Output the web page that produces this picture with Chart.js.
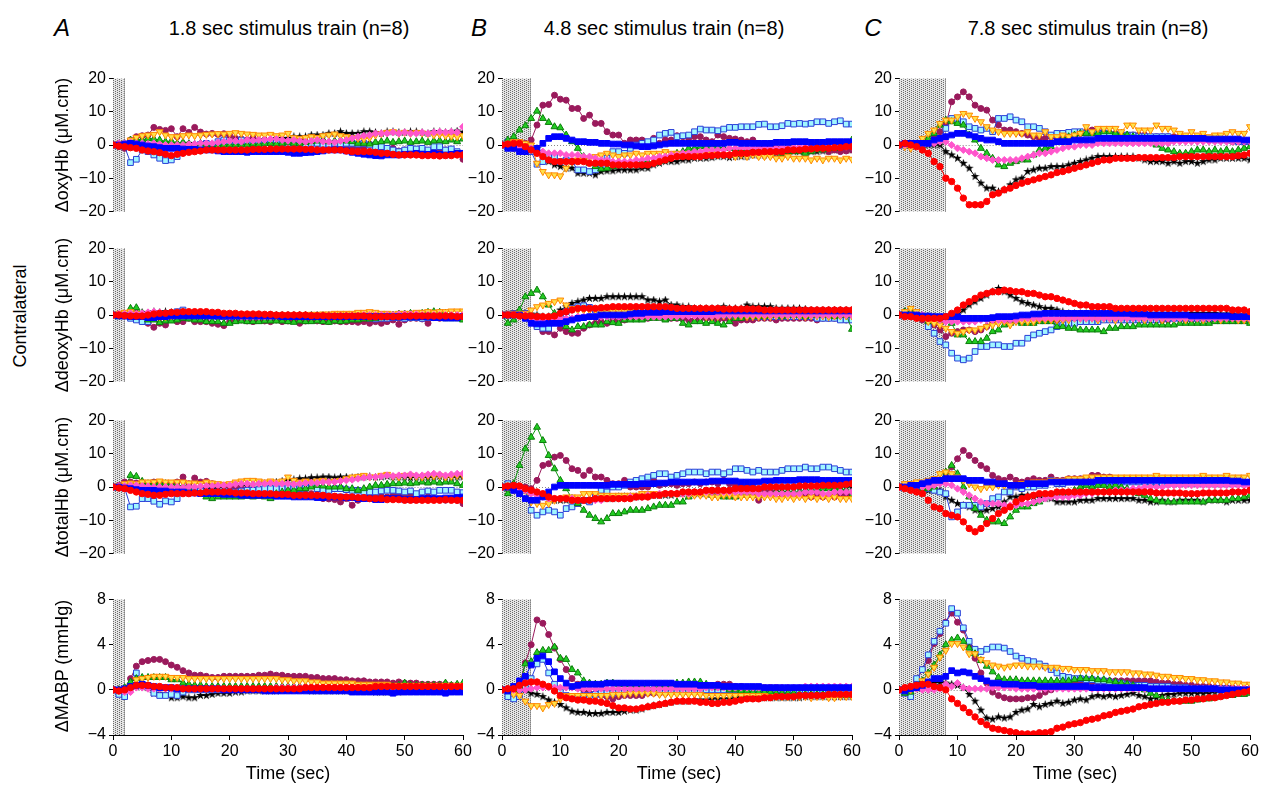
<!DOCTYPE html>
<html>
<head>
<meta charset="utf-8">
<script src="https://cdn.jsdelivr.net/npm/chart.js@4.4.1/dist/chart.umd.min.js"></script>
<style>
body { margin: 0; background: #fff; font-family: "Liberation Sans", Arial, sans-serif; }
#fig { position: relative; width: 1264px; height: 785px; overflow: hidden; }
#fig canvas { position: absolute; }
.lbl { position: absolute; white-space: nowrap; color: #000; font-size: 18px; transform: translate(-50%, -50%); }
.rot { transform: translate(-50%, -50%) rotate(-90deg); }
.head { font-size: 20px; }
.letter { font-size: 24px; font-style: italic; }
</style>
</head>
<body>
<div id="fig"></div>
<script>
// time base: one sample per second, 0..60 s
const seconds = Array.from({ length: 61 }, (_, i) => i);
const stimDur = [1.8, 4.8, 7.8];
const colTitles = ['1.8 sec stimulus train (n=8)', '4.8 sec stimulus train (n=8)', '7.8 sec stimulus train (n=8)'];
const colLetters = ['A', 'B', 'C'];
const rowTitles = ['\u0394oxyHb (\u03bcM.cm)', '\u0394deoxyHb (\u03bcM.cm)', '\u0394totalHb (\u03bcM.cm)', '\u0394MABP (mmHg)'];
const yTicks = [[-20, 20, 10], [-20, 20, 10], [-20, 20, 10], [-4, 8, 4]];

// ---- column A (1.8 s) ----
const A1_blk = [0,0,0.5,1,0.5,0.5,0,0,-0.5,0, 0,0,0.5,0.5,0,0,0,0,0.5,1, 1,1,1.5,1.5,1.5,1.5,1.5,1.5,2,2, 2,2.5,2.5,2.5,3,3,3,3.5,3.5,4, 3.5,3.5,3.5,4,4,3.8,3.5,4,4,3.8, 3.8,4,4,3.8,3.5,4,4,3.8,4,4.2, 3.8];
const A1_plum = [0,-0.5,-1,1.5,2.5,2.8,3,5.3,4.7,4.4, 4.9,2.5,4.9,3.8,5.3,3.9,3.3,3.5,3.2,3.4, 2.8,2,1.8,1.5,2.2,1.3,1.5,1,1.5,1.2, 0.5,1,1.5,0.8,0.5,0.3,1,0.2,-0.2,-0.5, -0.8,-1,-0.5,-0.8,0.2,-1,-1.2,-1.5,-1,-1.8, -1.5,-1.2,-2,-1.5,-2,-1.8,-2.2,-1.5,-2,-2.5, -4.3];
const A1_grn = [0,-0.3,-0.5,1.5,1.8,1.5,2,1.8,1.5,1, 1.2,0.5,0.8,0.3,0.2,0.5,0,-0.5,-0.3,0, 0,0,0.2,0,0.3,0.2,0.5,0.5,0.3,0.5, 0.8,0.5,0.5,0.8,1,1.2,1.5,1,1.2,1.5, 1.2,1,0.5,0.5,0.3,0.8,1,1.2,0.8,1, 1.2,0.8,1,1.2,0.8,1.2,1.3,1,1.5,1, 1.8];
const A1_org = [0,0.5,0.5,1.5,2.3,2.8,3,3.2,4,3, 2.5,2.5,2.8,3,2.8,3,3.2,3.3,3.4,3.3, 3.5,3.7,3.5,3.3,3.2,3,3,3.2,2.8,3, 3.5,2.2,2,2.2,2.5,2.3,2.8,3,3.3,2.8, 2.5,2.2,2,1.8,2.2,3,3.4,3.8,4,3.5, 3.8,3.5,3.8,3.6,3.4,3,3.2,2.8,2.6,2.5, 2.8];
const A1_pnk = [0,0.5,0.5,0.8,0.5,0.5,0.3,0.5,0.2,0, 0,0,0,0.2,0.3,0.5,0.5,0.5,0.8,1, 1.2,1.2,1,1.5,1.3,1.5,1.5,1.8,1.8,1.5, 1.3,1.5,1.2,1,1.2,1.5,1,1,0.8,1.2, 1.5,2,2.5,2.8,3,3.5,3.5,3.5,3.8,3.5, 3.8,3.5,3.5,3.8,3.5,3.8,4,3.8,4,3.8, 5.5];
const A1_cyan = [0,0,-0.5,-5.3,-4.3,-1.5,-2,-3,-4,-4.7, -4.5,-3.5,-2,-0.8,-0.3,0.2,0.5,-0.3,1,1.5, 0.5,0.5,1.5,0.8,0.5,0.5,1,0.8,1,0.3, 0.5,0.2,0,0,0.5,0.5,0.2,0,0.5,0.3, 0.5,0.5,0.3,0.5,0,-0.5,-0.5,-1,-1.5,-2, -1.5,-1,-1.2,-1,-1.5,-0.5,-0.5,-1.5,-1.2,-2, -2.5];
const A1_blu = [0,0,0.3,0.5,0.3,0,-0.3,-0.5,-0.8,-1, -1,-1,-1.2,-1.3,-1.3,-1.5,-1.5,-1.5,-1.8,-2, -2,-2,-2,-2.2,-2,-2,-2,-2,-2,-2, -2.2,-2.5,-2.5,-2.3,-2.2,-2,-1.8,-1.5,-1.5,-1.5, -1.8,-2.2,-2.5,-2.8,-3,-3.2,-3.3,-3,-3,-3, -2.8,-2.8,-2.5,-2.8,-2.8,-2.5,-2.8,-3,-2.8,-2.5, -2.5];
const A1_red = [0,-0.3,-0.5,-0.8,-1,-1.5,-1.8,-2,-2.3,-2.8, -3.2,-2.8,-2.5,-2.2,-2,-1.8,-1.5,-1.5,-1.5,-1.5, -1.5,-1.5,-1.5,-1.5,-1.3,-1.3,-1.3,-1.2,-1.2,-1.2, -1.2,-1.2,-1.2,-1.3,-1.3,-1.5,-1.5,-1.5,-1.5,-1.5, -1.8,-2,-2,-2,-2,-2.2,-2.5,-2.5,-2.8,-3, -3,-3,-3,-3.2,-3.2,-3.2,-3.3,-3.2,-3.2,-3, -3];

const A2_blk = [0,0,0,0.3,0.5,0.8,0.5,1,0.8,1, 0.8,0.5,0.5,0.3,0.2,0,0,0,0,0, 0,0,0,0,0,0,-0.2,0,0,0, 0,0,0,0,0,0,0,0,0,0, 0,0,0,0,0,0,0,0,0,0, 0,0,0,0,0,0,0,0,0,0, 0];
const A2_plum = [0,0,0.3,0.5,0.5,-1,-2.5,-3.7,-2.5,-3, -0.5,-2,-2,-1,-2,-2,-2,-2.5,-2.8,-3.2, -2,-1.5,-1.5,-1.8,-2,-1.5,-1.8,-2,-1.5,-2, -1.8,-1.5,-2.5,-1.8,-1.5,-1.8,-2,-2,-1.8,-2, -2,-2,-2.2,-2,-2.5,-2,-2.5,-2,-1.5,-2.8, -1.5,-1,-1,-1.2,-2.5,-0.8,-1,-0.8,-0.5,-0.8, -0.5];
const A2_grn = [0,-0.5,-0.3,2,2.2,0.5,-1.5,-1.5,-2.3,-1.8, -1.8,-1.5,-1,-1.2,-1.5,-1.5,-2,-2,-2,-2.5, -2.5,-2,-1.8,-2,-2,-2,-1.8,-1.8,-1.8,-1.8, -2,-2.2,-1.8,-2,-2,-1.8,-2,-2.2,-1.8,-2, -1.8,-1.5,-1.5,-1.2,-1.2,-1,-0.8,-0.5,0,0.3, 0.3,0.5,0.3,0.5,0.8,1,0.8,0.5,0.2,-0.5, -1.5];
const A2_org = [0,0.5,0.8,1,0.5,0,0,-0.3,-0.5,-0.5, -0.3,0,0,0,0.2,0.3,0.5,0.5,0.5,0.5, 0.5,0.3,0.2,0,0,0,0,0,0,0, 0,0,0,0,0.2,0.2,0.3,0.3,0.5,0.5, 0.5,0.5,0.8,0.8,1,0.8,0.5,0.5,0.3,0.5, 0.5,0.5,0.8,0.8,1,0.8,1,1,1.2,1.2, 1.2];
const A2_pnk = [0,0.3,0.3,0.5,0.3,0.5,0.8,1,0.8,0.5, 0.5,0.3,0.3,0.2,0.2,0,0,0,-0.2,-0.2, -0.3,-0.3,-0.5,-0.5,-0.5,-0.5,-0.5,-0.5,-0.3,-0.3, -0.3,-0.3,-0.3,-0.5,-0.5,-0.5,-0.3,-0.3,-0.3,-0.2, -0.2,-0.2,-0.2,0,0,0,0,0,0,0.2, 0.2,0.2,0.2,0,0,0,0,0,0,0, 0];
const A2_cyan = [0,0,-0.3,-1,-1.5,-2,-2,-1,-0.5,0, 0.5,1,1.5,0.5,0.3,0,0,-0.3,-0.5,-0.5, -0.5,-0.5,-0.3,-0.5,-0.5,-0.5,-0.5,-0.5,-0.3,-0.3, -0.5,-0.5,-0.5,-0.3,-0.3,-0.5,-0.5,-0.5,-0.3,-0.3, -0.5,-0.8,-0.8,-0.8,-1,-1.2,-1,-1,-0.8,-0.8, -1,-0.8,-0.8,-1,-0.8,-0.8,-0.8,-1,-1,-1, -1];
const A2_blu = [0,-0.3,-0.3,-0.5,-0.5,-0.5,-0.8,-0.8,-0.5,-0.5, -0.3,-0.3,-0.3,-0.3,-0.3,-0.3,-0.3,-0.3,-0.3,-0.3, -0.3,-0.3,-0.3,-0.3,-0.3,-0.3,-0.3,-0.3,-0.3,-0.5, -0.5,-0.5,-0.5,-0.5,-0.5,-0.5,-0.5,-0.5,-0.5,-0.5, -0.5,-0.5,-0.5,-0.5,-0.5,-0.5,-0.5,-0.5,-0.5,-0.5, -0.5,-0.5,-0.5,-0.5,-0.5,-0.8,-0.8,-0.8,-0.8,-0.8, -0.5];
const A2_red = [0,0,-0.2,-0.3,-0.3,-0.3,0,0.3,0.5,0.5, 0.8,0.8,1,1,1,1,1,0.8,0.8,0.5, 0.5,0.5,0.3,0.3,0.3,0.3,0.2,0.2,0,0, 0,0,0,0,-0.2,-0.2,-0.2,-0.3,-0.3,-0.3, -0.3,-0.3,-0.3,-0.3,-0.5,-0.5,-0.5,-0.5,-0.5,-0.5, -0.3,-0.3,-0.3,-0.3,-0.3,-0.3,-0.3,-0.3,-0.3,-0.5, -0.5];

const A3_blk = [0,0,0.3,0.5,0.5,0.3,0,0,0,0, 0,0,0,-0.3,-0.5,-0.5,-0.5,-0.5,-0.3,0, 0,0.3,0.5,0.5,0.8,0.8,1,1.2,1.5,1.8, 2,2.2,2.5,2.5,2.8,2.8,3,3,2.8,3, 3,2.8,3,3,3.2,3,3,3.2,3,3, 3,2.8,3,3,2.8,3,3.2,3,2.8,3, 3];
const A3_plum = [0,0.5,1.5,1.5,1.2,0.8,0.5,1.5,1,0.8, 1,1.5,3,1,2.7,1.5,1.7,1,0.5,0.5, 0,0,-0.5,-0.5,-1,-1,-1.2,-1,-1.2,-1.5, -1.5,-1.5,-2,-2,-2,-2.5,-3.5,-3.6,-3.8,-4.5, -3.5,-5.5,-4,-3.5,-3,-3,-2.8,-3,-2.5,-2, -3,-2.5,-3,-3.5,-3,-3.5,-3.8,-4,-3.5,-4, -5];
const A3_grn = [0,-0.3,-0.5,3.5,3.2,1.7,1,1,1.2,1, 0.8,0.5,0,-0.5,-1.5,-2,-3,-3.5,-3,-3, -3,-3,-3,-2.8,-3,-2.8,-3,-3.5,-2,-1.5, -1,-1,-0.5,-0.5,0,0.5,0.3,0,0,0, -0.5,-0.5,-1,-0.5,0,0.5,0.5,0.8,1,1, 1.2,1,1.2,1.5,1.2,1.5,1.2,1.5,1.5,1, 0.5];
const A3_org = [0,0.5,1,1.2,1,1.5,1.5,1.5,1.8,1.5, 1.5,1.5,1.5,1.2,1.2,1,1.5,1.2,1,0.8, 1,1.5,1.8,2,2,1.8,1.5,1.8,1.5,1.8, 3,2,1.5,1.8,1.5,1.8,2,1.5,1.8,2, 2.5,3,3.2,3.5,3,3,3.5,3.8,3.2,3, 3.5,3.5,3.2,3,3.5,3.3,3.5,3,3.2,3.5, 3.5];
const A3_pnk = [0,0.3,0.3,0.5,0.5,0.3,0.2,0,0,0, 0,0,-0.2,0,0,0.2,0.3,0.3,0.5,0.5, 0.5,0.8,1,1,0.8,1,1,1.2,1,1, 1,0.8,1,1.2,1.3,1.2,1.5,1.5,1.5,1.8, 2,2.2,2.5,2.8,3,3,3.2,3.5,3.3,3.5, 3.5,3.8,3.5,3.5,3.8,4,3.8,3.5,3.8,4, 4];
const A3_cyan = [0,0,-0.3,-6,-5.8,-3.5,-3.5,-4.3,-5.2,-4.2, -4.5,-3.5,-1.5,-1,-1,-1.2,-1.5,-1.5,-1.5,-1.5, -1.5,-1.5,-1.2,-1,-1,-0.8,-0.5,-0.5,-0.5,-0.5, 0,-0.5,-0.5,-0.3,0.5,-0.5,-1,-1,-0.5,-0.5, -0.8,-1,-1,-1.5,-1.5,-1.5,-1.2,-1,-1,-1.2, -1.5,-1.2,-2,-1.5,-1.2,-1.5,-1,-1,-1,-1.5, -1.7];
const A3_blu = [0,0,-0.3,-0.5,-0.8,-1,-1,-1,-1.2,-1.2, -1.5,-1.5,-1.5,-1.8,-1.8,-2,-2,-2,-2,-2.2, -2.2,-2.2,-2.5,-2.5,-2.5,-2.5,-2.5,-2.5,-2.8,-2.8, -2.8,-3,-3,-3,-3,-3.2,-3.2,-3,-3,-3, -3.2,-3.2,-3.5,-3.5,-3.5,-3.8,-3.8,-3.5,-3.5,-3.5, -3.8,-3.8,-3.8,-3.5,-3.5,-3.5,-3.5,-3.3,-3.3,-3.2, -3];
const A3_red = [0,-0.3,-0.5,-1,-1.5,-2,-2.2,-2.5,-2.5,-2.2, -2,-2,-2,-2,-1.8,-1.8,-1.5,-1.5,-1.5,-1.5, -1.5,-1.8,-1.8,-1.8,-2,-2,-2,-2,-2.2,-2.2, -2.2,-2.5,-2.5,-2.5,-2.5,-2.5,-2.5,-2.8,-2.8,-3, -3,-3,-3.2,-3.2,-3.5,-3.5,-3.5,-3.8,-3.8,-3.8, -4,-4,-4,-4,-4,-4,-4,-3.8,-4,-4, -4];

const A4_blk = [0,0,0.1,0.3,0.3,0.3,0.2,-0.3,-0.3,-0.4, -0.7,-0.7,-0.6,-0.7,-0.7,-0.5,-0.5,-0.4,-0.3,-0.3, -0.3,-0.2,-0.2,-0.1,-0.1,-0.1,-0.1,-0.1,-0.1,0, 0,0,0,0,-0.1,-0.1,-0.1,-0.1,-0.1,-0.1, -0.1,-0.1,-0.1,-0.1,-0.1,-0.2,-0.2,-0.2,-0.2,-0.2, -0.1,-0.1,-0.1,0,0,0,0,0,0,0, 0];
const A4_plum = [0,0,0.1,1,2.1,2.5,2.6,2.7,2.7,2.5, 2.2,2,1.7,1.5,1.3,1.3,1.2,1.1,1.1,1.2, 1.2,1.2,1.2,1.2,1.2,1.3,1.3,1.4,1.3,1.3, 1.2,1.2,1.2,1.2,1.1,1.1,1,1,1,0.9, 0.9,0.8,0.8,0.8,0.7,0.7,0.7,0.7,0.6,0.7, 0.6,0.6,0.6,0.5,0.5,0.5,0.5,0.5,0.4,0.4, 0.4];
const A4_grn = [0,0,0.2,0.7,1,1.1,1.1,1.1,1.1,1.1, 0.9,0.9,0.6,0.5,0.4,0.4,0.3,0.3,0.3,0.3, 0.3,0.3,0.3,0.3,0.3,0.3,0.3,0.3,0.3,0.3, 0.3,0.3,0.3,0.3,0.3,0.3,0.3,0.3,0.3,0.3, 0.3,0.3,0.3,0.3,0.3,0.3,0.3,0.3,0.3,0.4, 0.6,0.4,0.4,0.4,0.4,0.4,0.4,0.6,0.4,0.5, 0.6];
const A4_org = [0,0,0,0.3,0.9,1,1.1,1.2,1.2,1.2, 1.1,1.1,1.1,1,1,1,1,1,1,1, 1,1,1,1,1,1,1,1,1,0.9, 0.9,0.8,0.8,0.8,0.7,0.7,0.6,0.6,0.6,0.6, 0.6,0.6,0.5,0.5,0.5,0.5,0.5,0.5,0.4,0.4, 0.4,0.4,0.4,0.4,0.4,0.4,0.4,0.4,0.4,0.4, 0.4];
const A4_pnk = [0,-0.1,-0.2,-0.2,0.2,0.2,0.1,0.1,0.1,0.1, 0.1,0.1,0.1,0.1,0.1,0.1,0.1,0.1,0.1,0.1, 0.1,0.1,0.1,0.1,0.1,0.1,0.1,0.1,0.2,0.2, 0.2,0.2,0.2,0.2,0.2,0.2,0.2,0.2,0.2,0.2, 0.2,0.2,0.2,0.2,0.2,0.2,0.2,0.2,0.2,0.2, 0.2,0.2,0.3,0.3,0.3,0.3,0.3,0.3,0.3,0.3, 0.3];
const A4_cyan = [0,-0.4,-0.6,0.3,1.5,0.5,0.3,-0.3,-0.5,-0.5, -0.4,-0.5,-0.2,0,0,0,0,0,0,0, 0,0,0,0,0,0,0,0,0,0, 0,0,0,0,0,0,0,0,0,0, 0,0,0,0,0,-0.1,-0.1,-0.1,-0.1,-0.1, -0.1,-0.1,-0.1,-0.1,-0.1,-0.1,-0.1,-0.1,-0.1,-0.1, -0.1];
const A4_blu = [0,0,0.1,0.3,0.4,0.5,0.4,0.3,0.2,0.2, 0.2,0.1,0.1,0.1,0.1,0.1,0.1,0.1,0.1,0, 0,0,0,0,0,0,-0.1,-0.1,-0.1,-0.1, -0.1,-0.1,-0.1,-0.1,-0.1,-0.1,-0.1,-0.1,-0.1,-0.1, -0.1,-0.2,-0.2,-0.2,-0.2,-0.2,-0.2,-0.2,-0.3,-0.2, -0.2,-0.2,-0.2,-0.2,-0.2,-0.2,-0.2,-0.3,-0.2,-0.2, -0.2];
const A4_red = [0,-0.1,0,0.2,0.4,0.4,0.4,0.3,0.3,0.2, 0.2,0.2,0.1,0.1,0.1,0.1,0.1,0.1,0.1,0.1, 0.1,0.1,0.1,0.1,0.1,0.1,0.1,0.1,0.1,0.1, 0.1,0.1,0.1,0.2,0.2,0.2,0.2,0.2,0.2,0.2, 0.2,0.2,0.2,0.2,0.2,0.3,0.3,0.3,0.3,0.3, 0.3,0.3,0.3,0.3,0.3,0.3,0.3,0.3,0.3,0.3, 0.3];

// ---- column B (4.8 s) ----
const B1_blk = [0,1,0.5,0.5,0,-1,-1,-3,-5,-6, -6.5,-7,-7,-8.5,-8.5,-8.5,-9,-8,-7.8,-7.8, -7.5,-7.5,-7.5,-7.5,-7,-7,-6,-5.5,-5,-5, -5,-4.5,-4.5,-4,-4,-4,-3.8,-3.5,-3.5,-3.8, -3.5,-3.5,-3.5,-3,-3,-3,-2.8,-2.5,-2.5,-2.2, -2,-2,-2,-2,-2,-1.8,-1.8,-1.5,-1.5,-1.5, -1.5];
const B1_plum = [0,-0.5,-1,-0.5,0.5,1.5,6,12,12.2,15, 13.8,13.5,11,11,8,9,6.5,6.5,4,3, 3,0.5,1.5,1.5,1.5,0.5,2,0.5,1.5,1.5, 2.8,2.5,2,2.5,2.5,1.5,1,3,2.5,2, 1.8,1.5,1,1.5,0,-0.5,-0.5,-1,-1,-0.5, -1,-1,-1.5,-1,-1,-1.5,-2,-1.5,-2,-1.8, -1.5];
const B1_grn = [0,1.5,2.5,4.5,5.8,8,10.2,8,6.8,5.5, 5.2,3,1,-1,-3.5,-5.5,-6.5,-7.2,-7,-6.5, -6,-5.5,-5.5,-5.5,-5,-5,-5.5,-5,-4.5,-3, -2.5,-2,-1,-1,-0.5,-0.5,0,-0.5,-1,-1, -1,-1.5,-1,-1.5,-1.5,-2,-2,-2,-2.5,-2, -2,-2,-2.5,-2,-1.5,-1.5,-1,-1,-0.5,0, 1.5];
const B1_org = [0,0.5,1,1,0.5,0,-5.5,-8,-9,-9, -9.3,-7,-5,-4.5,-4,-4,-3.5,-3,-2.5,-3, -3.5,-3,-3,-2.5,-3,-2.5,-2.5,-2.5,-2,-2.5, -2.5,-3,-2.5,-3,-3,-3,-2.5,-3,-3,-3, -3.5,-3,-3.5,-3,-3.5,-3.5,-3.5,-4,-4,-3.5, -4,-4,-4,-4.5,-4,-4.5,-4,-4,-4.5,-4, -4.3];
const B1_pnk = [0,0,-0.5,-1,-1,-1,-2,-2,-2.5,-2.5, -2.5,-3,-3,-3,-3.5,-3.5,-4,-4.5,-4.5,-5, -5,-5,-5,-4.5,-4.5,-4,-4,-3.5,-3.5,-3, -3,-2.5,-2.5,-2,-2,-1.5,-1.5,-1.5,-1.5,-1, -1,-1,-1,-1,-1,-1,-1,-1,-0.8,-0.8, -0.8,-0.5,-0.5,-0.5,-0.5,-0.5,-0.5,-0.5,-0.5,-0.5, -0.5];
const B1_cyan = [0,1,0.5,-0.5,-2,-2,-5.8,-5,-3.5,-3.5, -5,-4.5,-5,-7.5,-7.5,-8,-7.5,-6,-4,-2, -2,-2.5,-1,0,0.5,1,1.5,3,3.5,3.8, 2.5,2.8,3,4,4.8,4.5,4.5,4.3,4.8,5.3, 5.3,5.5,5.5,5.5,6.2,6.3,5.5,5.5,5.8,6.5, 6.3,6.5,6.3,6.5,7,7,6.5,7,7.3,6.3, 6.3];
const B1_blu = [0,-1,-1,-2,-2,-1.5,-1,0.5,2,2.5, 2.5,2,1.5,1,1,0.8,0.8,0.5,0.5,0.3, 0.3,0,0,-0.3,-0.5,-0.5,-0.3,0,0.3,0.5, 0.5,0.5,0.5,0.5,0.5,0.5,0.5,0.5,0.5,0.8, 0.8,0.5,0.5,0.5,0.5,0.5,0.5,0.8,0.8,0.8, 1,1,1,0.8,0.8,0.8,1,1,1,1, 1];
const B1_red = [0,0.3,0.5,0.5,-0.5,-1.5,-2.5,-3.5,-4.5,-5, -5,-5,-5,-5,-5,-5.5,-5.5,-5.5,-5.5,-6, -6,-6,-6,-6,-6,-6,-5.5,-5,-4.5,-4, -3.5,-3.5,-3.5,-3.5,-3.5,-3.2,-3.2,-3,-3,-3, -2.5,-2.5,-2.5,-2.2,-2.2,-2,-2,-2,-2,-1.5, -1.5,-1.5,-1.2,-1.2,-1,-1,-1,-0.8,-0.8,-0.5, -0.5];

const B2_blk = [0,0,0.3,0.5,0.5,0.3,0,-0.5,-0.5,0, 1.5,2.5,3.5,4,4.5,5,5,5,5.5,5.5, 5.5,5.5,5.5,5.5,5.5,4.5,4.5,4,4.5,3, 3,2.5,2.5,2,2,2,2,2,2.5,2, 2,2,3,2.5,2.5,2.5,2.5,2,2,2, 2,2,1.8,1.5,1.5,1.5,1.5,1.5,1.5,1.5, 1.5];
const B2_plum = [0,0,0,0,0,-2,-3.5,-5,-5,-6, -4,-5,-5.5,-5.5,-4,-3,-2.5,-2,-2.5,-1.5, -2,-1.5,-1,-1,-1,-1,-0.5,-0.5,-1,-1, -1,-1,-1.5,-1.5,-1,-1,-1,-1.5,-1,-1.5, -2.5,-1.5,-1.5,-1.5,-1,-1,-1,-1.5,-1,-1, -1,-1,-1,-1,-1.5,-1,-1,-1,-1,-1.5, -1];
const B2_grn = [0,-2.5,-1.5,1.5,5.5,6.5,7.5,5.5,3,0.5, -1.5,-3.5,-4.5,-3.5,-3.5,-3,-3,-3,-2,-2.3, -2.5,-1.5,-1.5,-1.5,-1.5,-1,-1,-1,-1.5,-1, -1,-2.5,-3,-2,-2,-2.5,-2,-2.5,-3,-2, -1,-1,-0.5,-0.5,-0.5,-0.5,0,0,-0.5,0, 0,0,-0.5,0,0,0,0,-0.5,0,0, -4.3];
const B2_org = [0,0.5,0.5,0.5,0.5,1.5,2.5,3,3.5,4, 4.5,3,2,1.5,1.5,1.5,1.5,1.2,1.2,1, 1,1,1,0.8,0.8,0.5,0.5,0.5,0.3,0.3, 0,0,0,-0.3,-0.3,-0.5,-0.5,-0.5,-0.3,-0.3, -0.3,-0.3,-0.5,-0.5,-0.5,-0.5,-0.5,-0.3,-0.3,-0.3, -0.3,-0.3,-0.5,-0.3,-0.3,-0.3,-0.5,-0.3,-0.3,-0.3, -0.3];
const B2_pnk = [0,0,0,0,0,-1,-1.2,-1.5,-1.5,-1.2, -1,-1,-1,-0.5,-0.5,-0.5,-0.5,-0.5,-0.5,-0.5, -0.5,-0.5,-0.5,-0.5,-0.5,-0.5,-0.5,-0.5,-0.5,-0.5, -0.5,-0.3,-0.3,-0.3,-0.3,-0.3,-0.3,-0.3,0,0, 0,0,0,0,0,0,0,0,0,0, 0,0,0,0,0,0,0,0,0,0, 0];
const B2_cyan = [0,0.3,0.5,0.5,0.5,-1.5,-3.5,-4,-4,-2, -0.5,1,2,2.5,2.8,2.3,1.5,1.5,1.2,1, 1,1,0.8,0.8,0.5,0.5,0.5,0.5,0.5,0.5, 0.5,0.5,0.5,0.3,0.3,0.3,0.3,0.3,0,0, 0,0,0,-0.5,-0.5,-0.5,-0.5,-0.5,-0.5,-0.5, -0.5,-0.5,-0.5,-0.5,-1,-1,-1,-1,-1.5,-1.5, -1.5];
const B2_blu = [0,0,0,0,-1,-2.5,-2.7,-2.7,-2.5,-2.5, -2.5,-2,-1.5,-1,-0.8,-0.5,-0.5,0,0,0, 0,0,0.3,0.5,0.5,0.8,0.8,0.8,1,1, 1,1,1,1,1,1,1,1.2,1.2,1.2, 1.2,1.2,1.2,1.2,1.2,1.2,1.2,1.2,1.2,1.2, 1.2,1.2,1.2,1.2,1.2,1.2,1.2,1.2,1.2,1.2, 1.2];
const B2_red = [0,0,0,-0.3,-0.3,-0.3,-0.5,-0.5,-0.5,-0.3, 0.5,1,1.5,2,2,2,2,2.2,2.3,2.5, 2.5,2.5,2.5,2.5,2.5,2.5,2.5,2.5,2.5,2.3, 2,2,2,2,2,2,2,2,1.8,1.8, 1.8,1.8,1.8,1.8,1.8,1.5,1.5,1.5,1.5,1.5, 1.5,1.5,1.5,1.5,1.5,1.5,1.5,1.5,1.5,1.5, 1.5];

const B3_blk = [0,0,0,0,-0.5,-1,-2,-2.5,-3,-4, -4,-4,-4,-4,-4,-3.5,-3.5,-3.5,-3.5,-3.5, -3,-3,-3,-3,-2.5,-2.5,-2.5,-2.5,-2.5,-2.5, -2,-2,-2,-2,-2,-2,-2,-2,-1.5,-1.5, -1,-1,-1,-1,-1,-0.5,-0.5,-0.5,-0.5,-0.5, 0,0,0,0,0,0,0,0,0,0, 0];
const B3_plum = [0,-0.5,-1,-0.5,0,-0.5,2,6.5,7,9, 9.5,8,5.5,5,3.5,5,3,3,2,1, 1,2,0,0,0,0,2,0.5,1,1, 0.5,1,1,1.5,1,1.5,1.5,1,2,1, 0.5,0,0,0,-4,-1,-1.5,-1.5,-2,-2, -2,-2.5,-2,-3,-2.5,-3,-2.5,-3,-2,-2.5, -2];
const B3_grn = [0,-2,1,6.5,11.5,15,18,14,9.5,5.5, 2,-0.5,-3.5,-5,-7,-8.5,-9.5,-10.5,-9.5,-8, -8,-7.5,-7,-7,-7,-6.5,-6,-5.5,-5.5,-5.5, -4.5,-4.5,-3,-2,-2,-2,-2.5,-2.5,-3,-3, -3,-2.5,-2.5,-2.5,-2.5,-2,-2,-1.5,-1.5,-1.5, -1.5,-1.5,-1,-1,-1,-0.5,-0.5,-0.5,-0.5,-1, -2.5];
const B3_org = [0,0.5,0.5,0,-1,-4.5,-5,-5.5,-5,-4, -3.5,-3,-3,-3,-2,-2,-2,-2.5,-2.5,-2.5, -2.5,-2.5,-2.5,-2.5,-2,-2,-2,-2,-2,-2, -2,-2,-2.5,-2.5,-2.5,-2.5,-3,-3,-2.5,-2.5, -3,-3,-3,-3,-3,-3,-3,-3.5,-3.5,-3, -3.5,-3,-3.5,-3,-3.5,-3,-3.5,-3,-3.5,-3.5, -3.5];
const B3_pnk = [0,0,0,-0.5,-1,-2,-2.5,-3,-3.5,-3.5, -3.5,-3.5,-3.5,-4,-4,-4,-4,-4,-3.5,-3.5, -3.5,-3.5,-3,-3,-3,-2.5,-2.5,-2,-2,-2, -2,-2,-2,-1.5,-1.5,-1.5,-1.5,-1.5,-1.5,-1.5, -1.5,-1.5,-1.5,-1.5,-2,-2,-2,-2,-2,-2, -2,-2,-1.5,-1.5,-1.5,-2,-2,-1.5,-1.5,-1.5, -1.5];
const B3_cyan = [0,1,0.5,-1,-1,-7,-8.5,-7.5,-7,-7.5, -8.5,-6.5,-6,-5,-4,-4.5,-3,-1,-1.5,0, 0,0.5,1.5,2,2.5,3,3.5,4,4,3, 3.5,4,4.5,4.5,4.5,4,4.5,4.5,4,4.5, 5.5,5.5,5,4.5,5,4.5,4.5,4.5,5,5.5, 5.5,5.5,6,5.5,5.5,6,6,5.5,5,4.5, 4.5];
const B3_blu = [0,0,-1,-2,-3.5,-4,-4,-3,-1.5,0, 0.5,0.5,0.5,0.5,0.5,0.5,0.5,0.5,0.5,0.8, 0.8,0.8,0.8,0.8,1,1,1,1.2,1.2,1.5, 1.5,1.5,1.5,1.5,1.5,1.5,1.8,1.8,1.8,1.8, 1.8,1.5,1.5,1.5,1.5,1.8,1.8,2,2,2, 2,2.2,2.2,2.2,2.2,2,2,2,2,2, 2];
const B3_red = [0,0.3,0.5,0.3,-0.5,-1,-1.5,-2,-3,-3.5, -3.5,-3.5,-4,-4,-4,-4,-3.5,-3.5,-3.5,-3.5, -3.5,-3.5,-3.5,-3,-3,-3,-2.5,-2.5,-2,-2, -2,-1.5,-1.5,-1.5,-1.5,-1,-1,-1,-1,-1, -0.5,-0.5,-0.5,-0.5,-0.5,0,0,0,0,0, 0,0.3,0.3,0.3,0.3,0.5,0.5,0.5,0.5,0.8, 1];

const B4_blk = [0,0,0,0,0,-0.3,-0.4,-0.6,-0.9,-1.1, -1.3,-1.6,-1.9,-2,-2,-2.1,-2.1,-2.1,-2,-2, -2,-1.9,-1.8,-1.8,-1.7,-1.5,-1.4,-1.3,-1.2,-1.1, -1,-1,-1,-0.9,-0.9,-0.9,-0.8,-0.8,-0.8,-0.8, -0.7,-0.7,-0.7,-0.7,-0.7,-0.7,-0.7,-0.7,-0.7,-0.7, -0.7,-0.7,-0.6,-0.6,-0.6,-0.6,-0.6,-0.6,-0.6,-0.6, -0.6];
const B4_plum = [0,-0.2,-0.2,0.5,2.4,4,6.2,5.9,4.9,3.7, 2.7,1.8,1,0.5,0,-0.3,-0.3,-0.5,-0.6,-0.8, -0.6,-0.5,-0.5,-0.5,-0.5,-0.3,-0.3,-0.3,-0.3,-0.2, -0.1,0,0.1,0.2,0.3,0.3,0.3,0.5,0.5,0.5, 0.3,0.3,0.2,0.2,0.2,0.2,0.2,0.2,0.1,0.1, 0.1,0.1,0.1,0.1,0.1,0.1,0.1,0.1,0.1,0.1, 0.1];
const B4_grn = [0,0,0,0.3,2.3,2.5,3.3,3.5,3.5,3.8, 2.8,2.7,1.8,1.5,0.8,0.6,0.5,0.5,0.6,0.6, 0.5,0.5,0.5,0.3,0.3,0.2,0.2,0.3,0.4,0.5, 0.6,0.6,0.7,0.7,0.7,0.5,0.3,0.2,0.2,0, 0,-0.1,-0.1,-0.2,-0.2,-0.2,-0.2,-0.3,-0.3,-0.3, -0.3,-0.4,-0.4,-0.4,-0.4,-0.4,-0.5,-0.5,-0.5,-0.5, -0.5];
const B4_org = [0,0,-0.4,-0.5,-1,-1.4,-1.4,-1.6,-1.3,-1.2, -0.8,-0.5,-0.5,-0.5,-0.5,-0.5,-0.5,-0.5,-0.5,-0.4, -0.4,-0.4,-0.3,-0.3,-0.3,-0.3,-0.3,-0.4,-0.4,-0.4, -0.4,-0.4,-0.4,-0.4,-0.4,-0.5,-0.5,-0.5,-0.5,-0.5, -0.5,-0.5,-0.5,-0.5,-0.5,-0.5,-0.6,-0.6,-0.6,-0.6, -0.6,-0.6,-0.6,-0.7,-0.6,-0.6,-0.7,-0.7,-0.6,-0.6, -0.6];
const B4_pnk = [0,0,0,0,0,0.1,0.2,0.2,0.2,0.2, 0.2,0.2,0.2,0.1,0.1,0.1,0.1,0.1,0.1,0.1, 0.1,0.1,0.1,0.1,0.1,0.1,0.1,0.1,0.1,0.1, 0.1,0.1,0.1,0.1,0.1,0.2,0.2,0.2,0.2,0.2, 0.2,0.2,0.2,0.2,0.2,0.2,0.2,0.2,0.2,0.2, 0.2,0.2,0.3,0.3,0.3,0.3,0.3,0.3,0.3,0.3, 0.3];
const B4_cyan = [0,-0.6,-0.8,-0.6,0.3,1,2.3,2.7,1.5,0.5, -0.2,-0.5,-0.7,-0.7,-0.5,-0.5,-0.4,-0.3,-0.3,-0.3, -0.2,-0.1,-0.1,-0.1,-0.1,-0.1,-0.1,-0.1,-0.1,-0.1, -0.1,-0.1,0,0,0,0,0,0,0,0, 0,0,0,0,0,0,0,0,0,0, 0,0,0,0,0,0,0,0,0,0, 0];
const B4_blu = [0,-0.1,0.3,0.8,1.2,2.2,2.8,3,2.5,1.6, 1,0.6,0.3,0.4,0.5,0.5,0.5,0.5,0.6,0.6, 0.6,0.6,0.6,0.6,0.6,0.6,0.6,0.6,0.6,0.6, 0.5,0.5,0.5,0.5,0.4,0.4,0.4,0.4,0.3,0.3, 0.3,0.3,0.3,0.3,0.3,0.2,0.2,0.2,0.2,0.2, 0.2,0.2,0.2,0.2,0.2,0.2,0.2,0.2,0.2,0.2, 0.2];
const B4_red = [0,0.1,0.1,0.4,0.6,0.7,0.7,0.5,0.3,-0.1, -0.5,-0.7,-0.8,-0.9,-0.9,-1,-1,-1.1,-1.2,-1.4, -1.6,-1.6,-1.7,-1.7,-1.6,-1.5,-1.4,-1.3,-1.2,-1.1, -1,-1,-1,-1,-1.1,-1.1,-1.2,-1.2,-1.1,-1.1, -1,-0.9,-0.8,-0.8,-0.8,-0.7,-0.7,-0.6,-0.6,-0.6, -0.6,-0.5,-0.5,-0.5,-0.5,-0.5,-0.4,-0.4,-0.4,-0.4, -0.4];

// ---- column C (7.8 s) ----
const C1_blk = [0,0,0,0,0,0,0,0,-2,-3, -4,-5.5,-7,-9.5,-11.5,-13,-13,-14,-13.5,-12, -10.5,-10,-8,-7.5,-7,-7,-6.5,-6.5,-6.5,-6, -5.5,-5,-4.5,-4,-3.5,-3.5,-3.5,-3.5,-3.5,-3.5, -3.5,-4,-4.5,-5,-5,-5,-5.5,-5,-5.5,-5, -5,-5.5,-5,-4.5,-4.5,-4,-4,-4,-4,-4, -4.5];
const C1_plum = [0,0,0.5,0.5,0.5,1,2.5,4,6,13, 14.5,16,14.5,12,11,10.5,7.5,6,4.5,4.5, 4,3.5,3,2.5,2,2,2.5,2,2,2.5, 3,3.5,4,4.5,4,4,3.5,3.5,3,3, 3,3,3,2.5,2.5,2.5,2.5,2.5,2.5,2, 2,2,2,2,1.5,1.5,1.5,1,1,1, 1];
const C1_grn = [0,0,0,0,1,2,3.5,6,7.5,7, 6.5,6,3,1.5,-1,-2.5,-4,-6,-6.5,-5.5, -5,-4.5,-4.5,-3,-1.5,-1,-0.5,1,2,2.5, 3,3.5,3.5,3.5,3.5,4,4,3.5,3.5,3, 2.5,2,2,1,0,-1,-1.5,-2,-2.5,-2.5, -2,-1.5,-1.5,-2,-1.5,-2,-1.5,-2,-1.5,-1, -0.5];
const C1_org = [0,-0.5,-1,0,2,3.5,4.5,6.5,7.5,7.5, 8.5,9.5,9,8,7,5.5,4.5,4,3.5,3.5, 3.5,3.5,4,3,3,4,2.5,2.5,3,2.5, 3,3.5,5.5,4,5,5,5,5,4,6, 6,4.5,4.5,4.5,6,5,5,4.5,3.5,3, 4,3,3.5,2.5,3,3,3.5,4,3.5,3.5, 5.5];
const C1_pnk = [0,0,0,0,0,0.5,0.5,1,1,0, -1,-1.5,-2,-2.5,-3.5,-4,-4.5,-4.5,-4.5,-4.5, -4.5,-4,-3.5,-3,-2.5,-2.5,-2,-1.5,-1,-0.5, -0.5,0,0,0,0.5,0.5,0.5,0.5,0.5,0.5, 0.5,0.5,0.5,0.5,0.5,0.5,0.5,1,1,1, 1,1,1,1,1,1,1,1,1,1, 1];
const C1_cyan = [0,0,0.5,0.5,0.5,1,1,2,5,8, 8,7,5.5,5,4.5,5,4,8,8,8.5, 7.5,7,5.5,5.5,5,4,3,3.5,3.5,3.8, 4,4,3.5,3.5,3.5,3.5,3,3,3,3, 3,2.5,2.5,2.5,2.5,2.5,2.5,2,2,2, 2,2,2,2,1.5,1.5,1.5,1.5,1,1, 1];
const C1_blu = [0,0.5,0.5,0.5,0.5,0.5,1.5,2,2.5,3, 3.5,3.5,3,2.5,2,1.5,1.5,1,0.5,0.5, 0.5,0.5,0.5,0.5,0.5,0.5,0.5,1,1,1, 1.5,1.5,1.5,1.5,2,2,2,2,2,2, 2,2,2,2,2,2,2,2,2,2, 2,2,2,1.8,1.8,1.8,1.8,1.8,1.8,1.5, 1.5];
const C1_red = [0,0.5,0,-0.5,-1.5,-2.5,-5,-6.5,-10,-11, -13,-16,-18,-18,-18,-17,-15,-14.5,-13.5,-13, -12.2,-11.5,-11,-10.5,-10,-9.5,-9,-8.3,-8,-7.5, -7,-6.5,-6,-5.5,-5,-4.5,-4.5,-4,-4,-4, -4,-3.8,-3.8,-3.8,-3.8,-3.8,-3.8,-3.8,-3.5,-3.5, -3.5,-3.5,-3.5,-3.5,-3.5,-3.5,-3.5,-3.5,-3.2,-3, -2.5];

const C2_blk = [0,0,0,0,-0.5,-0.5,-0.5,-1.5,-1,-1, 0,1.5,3,4,5,6,7,8,7,6, 5,4,3.5,3,2.5,2,2,1.5,1,0.5, 0.5,0.5,0.5,0.5,0.5,0.5,0.5,0.5,0.5,0.5, 0.5,0.5,0.5,0.5,0.5,0.5,0.5,0.5,0.5,0.5, 0.5,0.5,0.5,0.5,0.5,0.3,0.3,0.3,0,0, 0];
const C2_plum = [0,0,-0.5,-0.5,-1.5,-2.5,-3,-4.5,-6.5,-5.5, -5,-4.5,-4.5,-5,-4.5,-3.5,-2,-2,-1.5,-1.5, -1.5,-1.5,-1.5,-1.5,-1.5,-1.5,-1.5,-1.5,-1,-1, -1,-1,-1,-1,-1,-1,-1,-1,-1,-1, -1,-1,-1,-1,-1.5,-1.5,-1.5,-1,-1,-1.5, -1.5,-1,-1,-1.5,-1.5,-1,-1,-1.5,-1.5,-1, -1.5];
const C2_grn = [0,1,1,0,-1,-2,-2,-2,-1.5,-2.5, -6,-6,-8,-8,-8,-7,-5,-4.5,-3,-2.5, -2,-2.5,-2.5,-2.5,-2,-2,-2,-3.5,-3.5,-4, -4,-4.5,-4.5,-4.5,-4.5,-5,-4,-4,-3.5,-3.5, -3.5,-3,-3,-3,-3,-3,-3,-3,-2.5,-2.5, -2.5,-2.5,-2.5,-2.5,-2,-2,-2,-2,-2,-2, -2.5];
const C2_org = [0,1,2,1,0,-2,-2.5,-3,-4,-5, -5.5,-5,-4.5,-4.5,-4,-3.5,-3,-2.5,-2,-3, -2,-2,-2,-2,-1.5,-1.5,-1.5,-1.5,-1.5,-1.5, -1,-1,-1,-1,-1.5,-1,-1,-1.5,-1,-1, -1,-1,-1.5,-1,-1,-1.5,-1,-1,-1,-1.5, -1,-1,-1.5,-1,-1,-1.5,-1,-1,-1.5,-1.5, -1.5];
const C2_pnk = [0,0,0,0,0,-1,-1,-1.5,-2,-2, -2,-2,-2,-2,-1.5,-1.5,-1.5,-1.5,-1.5,-1.5, -1.5,-1,-1,-1,-1,-1,-1,-1,-1,-1, -1,-1,-1,-1,-1,-1,-1,-1,-1,-1, -1,-1,-1,-1,-1,-1,-1,-1,-1,-1, -1,-1,-1,-1,-1,-1,-1,-1,-1,-1, -1];
const C2_cyan = [0,0,0,0,-0.5,-3.5,-5.5,-8,-9,-11.5, -13,-13.5,-13,-11,-9.5,-9.5,-9,-9,-9.5,-9.5, -8.5,-8.5,-7,-6,-5.5,-5,-4.5,-3.5,-3,-2.5, -2.5,-2,-2,-2,-2,-1.5,-1.5,-1.5,-1.5,-1.5, -1.5,-1.5,-1.5,-1.5,-1.5,-1,-1,-1,-1,-1, -1,-1,-1,-1,-1,-1,-1,-1,-1,-1, -1];
const C2_blu = [0,0,0,0,-0.3,-0.3,-0.5,-0.5,-0.5,-0.5, -0.5,-1,-1,-1,-1,-1,-0.8,-0.5,-0.5,-0.5, -0.3,0,0,0.3,0.3,0.5,0.5,0.5,0.5,0.5, 0.5,0.5,0.5,0.5,0.5,0.5,0.5,0.5,0.5,0.5, 0.3,0.3,0.3,0,0,0,0,0,0,0, -0.3,-0.3,-0.3,-0.3,-0.3,-0.3,-0.3,-0.5,-0.5,-0.5, -0.5];
const C2_red = [0,-0.5,-0.5,-1,-1,-1,-1,-1,-0.5,0.5, 1.5,3,4,5,6,6.5,7,7,7.5,7.3, 7,7,6.5,6.5,6,5.5,5.5,5,4.5,4, 3.5,3,3,2.5,2.5,2.5,2.5,2,2,2, 2,2,2,2,2,2,2,2,2,2, 2,2,2,2,2,2,2,1.5,1.5,1.5, 1];

const C3_blk = [0,0,0,0,0,-1,-1,-1,-3,-4, -5,-5.5,-6,-7,-7.5,-7,-6.5,-6,-4.5,-3, -3,-2.5,-2.5,-3,-3,-3.5,-3.5,-4.5,-4.5,-4.5, -4.5,-4,-4,-4,-3.5,-3.5,-3.5,-3.5,-3.5,-3.5, -3.5,-4,-4,-4.5,-4.5,-4,-4.5,-4.5,-4,-4, -4,-4,-4.5,-4,-4,-4,-4.5,-4,-4,-4, -4];
const C3_plum = [0,0,0.5,0.5,0.5,0.5,1,2,3,6, 8.5,11,9.5,8,6.5,5.5,3.5,2.5,2,3, 2,1.5,2,2.5,2,2,3,2,2,2.5, 2.5,2.5,2,3.5,3.5,3,3,2.5,2.5,2.5, 1.5,1.5,1.5,1,1,1,1,1,1,1, 1,1,1,1,1.5,1.5,1.5,1.5,1,1.5, 1.5];
const C3_grn = [0,0,0.5,0.5,-0.5,-0.5,0,2,4.5,6.5, 4,0,-3,-6.5,-8.5,-10,-10.5,-10.5,-11,-9, -7,-6,-6,-5,-4.5,-3,-2.5,-2,-2,-2, -1,0,0.5,0,0.5,0.5,0,0.5,0,-0.5, -1,-2,-2.5,-3.5,-4,-4.5,-4.5,-4.5,-4.5,-4.5, -4.5,-4.5,-4.5,-4,-4,-4,-4,-3.5,-3.5,-3, -2.5];
const C3_org = [0,1,1,1.5,1.5,2,2.5,4,4.5,4, 3,2,1,0,-0.5,0,0,0.5,0.5,0.5, 0.5,1,1,1.5,1.5,1.5,2,2,2,2.5, 2.5,2.5,3,3,3,3,3,3,3,3, 3,3,3,3,3.5,3,3,3,3,3, 3,3,3.5,3,3,3,3.5,3,3,3, 3.5];
const C3_pnk = [0,0,0,0,0,0,0.5,1,1,0.5, -0.5,-1.5,-2.5,-3.5,-4.5,-5,-5,-5,-5.5,-5.5, -5.5,-5,-5,-4.5,-4,-3.5,-3,-3,-3,-3, -2.5,-2.5,-2,-2,-1.5,-1.5,-1.5,-1,-1,-1, -0.5,-0.5,0,0,0,0,0.5,0.5,0.5,0.5, 0.5,0.5,0.5,0.5,0.5,0.5,0.5,0.5,0.5,0.5, 0];
const C3_cyan = [0,0,0.5,0.5,0.5,-0.5,-1,-1.5,-2,-9, -7.5,-5.5,-5.5,-5.5,-6,-5,-3.5,-3,-1.5,-1.5, 0,-0.5,0,0,0.5,0.5,2,1,1,1.5, 1.5,1.5,1.5,1.5,1.5,1.5,1.5,1.5,1.5,1.5, 1.5,1.5,1.5,1.5,1.5,1,1,1,1,1, 1,1,1,1,1,1,1,1,1,1, 1];
const C3_blu = [0,0,0.5,0.5,1,1.5,2,2,2.5,2.5, 2.5,2.5,2,2,2,1.5,1.5,1,1,0.5, 0.5,0.5,1,1,1,1,1.5,1.5,1.5,1.5, 1.5,1.5,1.5,1.5,2,2,2,2,2,2, 2,2,2,2,2,2,2,2,2,2, 2,2,2,2,2,2,2,1.8,1.8,1.5, 1.5];
const C3_red = [0,-0.5,-1,-1.5,-2,-4,-6,-6.5,-8,-8.5, -9,-10.5,-12.5,-13.5,-12.5,-11,-9.5,-8,-7,-6, -4.5,-3.5,-3,-2.5,-2,-2,-2,-1.5,-1.5,-1.5, -1.5,-1.5,-1.5,-1.5,-1.5,-1.5,-1.5,-1.5,-1.5,-1.5, -1.5,-1.5,-1.5,-1.5,-1.8,-1.8,-1.8,-1.8,-1.8,-2, -2,-2,-1.8,-1.8,-1.8,-1.8,-1.8,-1.5,-1.5,-1.5, -1];

const C4_blk = [0,0,0.1,0.2,0.3,0.6,0.6,0.7,0.6,0.5, 0.4,0.2,-0.4,-1,-1.8,-2.5,-2.6,-2.4,-2.5,-2.4, -2,-1.8,-1.7,-1.3,-1.5,-1.3,-1.2,-1,-1.2,-1.1, -0.9,-0.8,-0.9,-0.6,-0.5,-0.6,-0.5,-0.6,-0.5,-0.4, -0.3,-0.5,-0.6,-0.8,-0.7,-0.5,-0.4,-0.4,-0.3,-0.3, -0.3,-0.3,-0.3,-0.3,-0.2,-0.2,-0.2,-0.2,-0.1,-0.1, -0.1];
const C4_plum = [0,0.1,0.3,0.8,1.8,2.6,4.1,5,6,6.8, 6,5.3,3.9,2.8,1.5,0.6,-0.2,-0.5,-0.7,-0.8, -0.8,-0.8,-0.7,-0.7,-0.5,-0.2,0,0.3,0.4,0.5, 0.5,0.6,0.6,0.7,0.7,0.7,0.8,0.8,0.8,0.8, 0.8,0.8,0.8,0.8,0.7,0.6,0.6,0.5,0.5,0.4, 0.4,0.3,0.3,0.3,0.2,0.2,0.2,0.2,0.1,0.1, 0.1];
const C4_grn = [0,-0.3,-0.2,0.3,0.8,1.5,2.2,3.1,4,4.4, 4.6,4.3,3.7,3.2,2.6,2.1,1.6,1.1,0.9,0.9, 0.9,0.8,0.8,0.8,0.8,0.8,0.8,0.8,0.8,0.8, 0.9,1,1,1,0.9,0.9,0.8,0.7,0.6,0.5, 0.4,0.2,0,-0.3,-0.5,-0.8,-0.9,-1,-1,-1, -1,-0.9,-0.8,-0.8,-0.7,-0.6,-0.5,-0.5,-0.4,-0.4, -0.3];
const C4_org = [0,0,0,0.3,0.8,1.4,2,2.9,3.5,4.1, 4.1,3.8,3.2,3.2,2.7,2.4,2.2,2.1,2,2.1, 2.2,2.2,2.1,2.1,2.1,2,2,2,1.9,1.9, 1.8,1.8,1.8,1.7,1.7,1.7,1.6,1.6,1.6,1.6, 1.5,1.5,1.4,1.4,1.3,1.2,1.2,1.1,1.1,1, 1,0.9,0.9,0.8,0.8,0.7,0.7,0.6,0.6,0.5, 0.5];
const C4_pnk = [0,0.1,0.1,0.1,0,0,0,0.1,0.5,0.3, 0.6,0.2,0.1,0.1,0.1,0.1,0.2,0.2,0.2,0.2, 0.1,0.1,0.1,0.1,0.1,0.1,0.1,0.1,0.1,0.1, 0.1,0.1,0.1,0.1,0.1,0.1,0.1,0.1,0.1,0.1, 0.1,0.1,0.1,0.1,0.1,0.1,0.1,0.1,0.1,0.1, 0.1,0.1,0.1,0.1,0.1,0.1,0.1,0.1,0.1,0.1, 0.1];
const C4_cyan = [0,-0.3,-0.6,1,1.8,3.1,4.3,5.2,5.9,7.2, 6.8,5.5,4.3,3.6,3.4,3.6,3.8,3.8,3.7,3.4, 3,2.8,2.6,2.5,2.3,2.1,1.8,1.5,1.2,1.1, 1,1,0.9,0.9,0.8,0.8,0.7,0.6,0.6,0.5, 0.4,0.4,0.4,0.3,0.3,0.3,0.3,0.2,0.2,0.2, 0.1,0.1,0.1,0.1,0.1,0.1,0.1,0,0,0, 0];
const C4_blu = [0,-0.1,0.1,0.2,0.4,0.7,1,1,1.2,1.7, 1.5,1.6,1.5,1.2,1,0.8,0.6,0.6,0.5,0.5, 0.5,0.4,0.4,0.4,0.3,0.3,0.3,0.3,0.3,0.3, 0.3,0.3,0.3,0.2,0.2,0.2,0.2,0.2,0.2,0.2, 0.2,0.2,0.2,0.1,0.1,0.1,0.1,0.1,0.1,0.1, 0.1,0.1,0.1,0.1,0.1,0,0,0,0,0, 0];
const C4_red = [0,0.2,0.3,0.4,0.5,0.5,0.3,0.2,0,-0.8, -1.2,-1.6,-2,-2.4,-2.8,-3.1,-3.4,-3.5,-3.6,-3.7, -3.8,-3.9,-3.9,-3.9,-3.8,-3.8,-3.7,-3.4,-3.3,-3.1, -3,-2.9,-2.7,-2.6,-2.5,-2.3,-2.2,-2,-1.9,-1.8, -1.7,-1.5,-1.4,-1.3,-1.2,-1.1,-1.1,-1,-1,-0.9, -0.9,-0.8,-0.8,-0.7,-0.7,-0.6,-0.5,-0.4,-0.3,-0.2, -0.1];

// panels[col][row], series order: blk, plum, grn, org, pnk, cyan, blu, red
const panels = [
  [[A1_blk, A1_plum, A1_grn, A1_org, A1_pnk, A1_cyan, A1_blu, A1_red],
   [A2_blk, A2_plum, A2_grn, A2_org, A2_pnk, A2_cyan, A2_blu, A2_red],
   [A3_blk, A3_plum, A3_grn, A3_org, A3_pnk, A3_cyan, A3_blu, A3_red],
   [A4_blk, A4_plum, A4_grn, A4_org, A4_pnk, A4_cyan, A4_blu, A4_red]],
  [[B1_blk, B1_plum, B1_grn, B1_org, B1_pnk, B1_cyan, B1_blu, B1_red],
   [B2_blk, B2_plum, B2_grn, B2_org, B2_pnk, B2_cyan, B2_blu, B2_red],
   [B3_blk, B3_plum, B3_grn, B3_org, B3_pnk, B3_cyan, B3_blu, B3_red],
   [B4_blk, B4_plum, B4_grn, B4_org, B4_pnk, B4_cyan, B4_blu, B4_red]],
  [[C1_blk, C1_plum, C1_grn, C1_org, C1_pnk, C1_cyan, C1_blu, C1_red],
   [C2_blk, C2_plum, C2_grn, C2_org, C2_pnk, C2_cyan, C2_blu, C2_red],
   [C3_blk, C3_plum, C3_grn, C3_org, C3_pnk, C3_cyan, C3_blu, C3_red],
   [C4_blk, C4_plum, C4_grn, C4_org, C4_pnk, C4_cyan, C4_blu, C4_red]]
];

// small filled star for the black series
function starMarker(size, color) {
  const c = document.createElement('canvas');
  c.width = c.height = size;
  const g = c.getContext('2d');
  g.fillStyle = color;
  g.beginPath();
  for (let i = 0; i < 10; i++) {
    const r = i % 2 ? size * 0.2 : size * 0.5;
    const a = -Math.PI / 2 + i * Math.PI / 5;
    g.lineTo(size / 2 + r * Math.cos(a), size / 2 + r * Math.sin(a));
  }
  g.closePath();
  g.fill();
  return c;
}

const looks = [
  { line: '#000000', fill: '#000000', edge: '#000000', shape: starMarker(9, '#000'), r: 4, order: 7 },
  { line: '#9a1a5c', fill: '#9a1a5c', edge: '#9a1a5c', shape: 'circle', r: 3, order: 6 },
  { line: '#109a10', fill: '#22cc22', edge: '#0b7d0b', shape: 'triangle', r: 4, order: 4 },
  { line: '#ff9900', fill: '#ffe04a', edge: '#ff8800', shape: 'triangle', r: 4, order: 3, rot: 180 },
  { line: '#ff55cc', fill: '#ff55cc', edge: '#ff55cc', shape: 'rectRot', r: 3.5, order: 2 },
  { line: '#2a3fd8', fill: '#a0f6ff', edge: '#2a3fd8', shape: 'rect', r: 4, order: 5 },
  { line: '#0000ff', fill: '#0000ff', edge: '#0000ff', shape: 'rect', r: 4, order: 1 },
  { line: '#ff0000', fill: '#ff0000', edge: '#ff0000', shape: 'circle', r: 3.2, order: 0 }
];

// stimulus block (stippled) plus dotted baseline
const stimPlugin = {
  id: 'stim',
  beforeDatasetsDraw(chart, args, opts) {
    const { ctx, chartArea, scales } = chart;
    const xs = scales.x, ys = scales.y;
    const tile = document.createElement('canvas');
    tile.width = 4; tile.height = 4;
    const t = tile.getContext('2d');
    t.fillStyle = '#e4e4e4'; t.fillRect(0, 0, 4, 4);
    t.fillStyle = '#6a6a6a';
    t.fillRect(0, 0, 1, 1); t.fillRect(2, 1, 1, 1); t.fillRect(0, 2, 1, 1); t.fillRect(2, 3, 1, 1);
    const x0 = xs.getPixelForValue(0), x1 = xs.getPixelForValue(opts.dur);
    ctx.save();
    ctx.fillStyle = ctx.createPattern(tile, 'repeat');
    ctx.fillRect(x0, chartArea.top, x1 - x0, chartArea.bottom - chartArea.top);
    ctx.strokeStyle = '#333';
    ctx.lineWidth = 1;
    ctx.setLineDash([1, 1]);
    ctx.beginPath();
    ctx.moveTo(Math.round(x1) + 0.5, chartArea.top);
    ctx.lineTo(Math.round(x1) + 0.5, chartArea.bottom);
    ctx.stroke();
    const y0 = Math.round(ys.getPixelForValue(0)) + 0.5;
    ctx.strokeStyle = '#888';
    ctx.setLineDash([1, 2]);
    ctx.beginPath();
    ctx.moveTo(x1, y0);
    ctx.lineTo(xs.getPixelForValue(60), y0);
    ctx.stroke();
    ctx.restore();
  }
};

Chart.defaults.font.family = '"Liberation Sans", Arial, sans-serif';
Chart.defaults.font.size = 16;
Chart.defaults.color = '#000';

const fig = document.getElementById('fig');
const plotX = [113, 502, 899];
const plotW = [350, 350, 351];
const plotY = [[76, 214], [246, 384], [418, 556], [597, 735]];
const yAxisW = 52;
const xAxisH = 32;

function addText(text, x, y, cls) {
  const d = document.createElement('div');
  d.className = 'lbl' + (cls ? ' ' + cls : '');
  d.textContent = text;
  d.style.left = x + 'px';
  d.style.top = y + 'px';
  fig.appendChild(d);
}

panels.forEach((col, ci) => {
  col.forEach((rowSeries, ri) => {
    const bottom = ri === 3;
    const [yTop, yBot] = plotY[ri];
    const cv = document.createElement('canvas');
    const w = yAxisW + plotW[ci] + 14;
    const h = (yBot - yTop) + 10 + (bottom ? xAxisH : 10);
    cv.width = w; cv.height = h;
    cv.style.left = (plotX[ci] - yAxisW) + 'px';
    cv.style.top = (yTop - 10) + 'px';
    fig.appendChild(cv);

    const [ymin, ymax, ystep] = yTicks[ri];
    const datasets = rowSeries.map((vals, si) => {
      const lk = looks[si];
      return {
        data: seconds.map((s, i) => ({ x: s, y: vals[i] })),
        borderColor: lk.line,
        borderWidth: 1,
        pointStyle: lk.shape,
        pointRadius: lk.r,
        pointRotation: lk.rot || 0,
        pointBackgroundColor: lk.fill,
        pointBorderColor: lk.edge,
        pointBorderWidth: 1,
        order: lk.order,
        tension: 0
      };
    });

    new Chart(cv, {
      type: 'line',
      data: { datasets },
      plugins: [stimPlugin],
      options: {
        responsive: false,
        animation: false,
        devicePixelRatio: 1,
        layout: { padding: { left: 0, top: 10, right: 14, bottom: bottom ? 0 : 10 } },
        plugins: { legend: { display: false }, tooltip: { enabled: false }, stim: { dur: stimDur[ci] } },
        scales: {
          x: {
            type: 'linear', min: 0, max: 60,
            display: bottom,
            afterFit: s => { if (bottom) s.height = xAxisH; },
            ticks: { stepSize: 10, padding: 2, maxRotation: 0 },
            grid: { drawOnChartArea: false, drawTicks: true, tickLength: 5, color: '#000' },
            border: { color: '#000', width: 1 }
          },
          y: {
            min: ymin, max: ymax,
            afterFit: s => { s.width = yAxisW; },
            ticks: { stepSize: ystep, padding: 3, callback: v => String(v).replace('-', '\u2212') },
            grid: { drawOnChartArea: false, drawTicks: true, tickLength: 4, color: '#000' },
            border: { color: '#000', width: 1 }
          }
        }
      }
    });
  });
});

// headings and axis titles
colLetters.forEach((l, i) => addText(l, [62, 479, 873][i], 28, 'letter'));
colTitles.forEach((t, i) => addText(t, [289, 664, 1088][i], 28, 'head'));
rowTitles.forEach((t, i) => addText(t, 62, (plotY[i][0] + plotY[i][1]) / 2, 'rot'));
[288, 679, 1075].forEach(x => addText('Time (sec)', x, 773));
addText('Contralateral', 20, 316, 'rot');
</script>
</body>
</html>
